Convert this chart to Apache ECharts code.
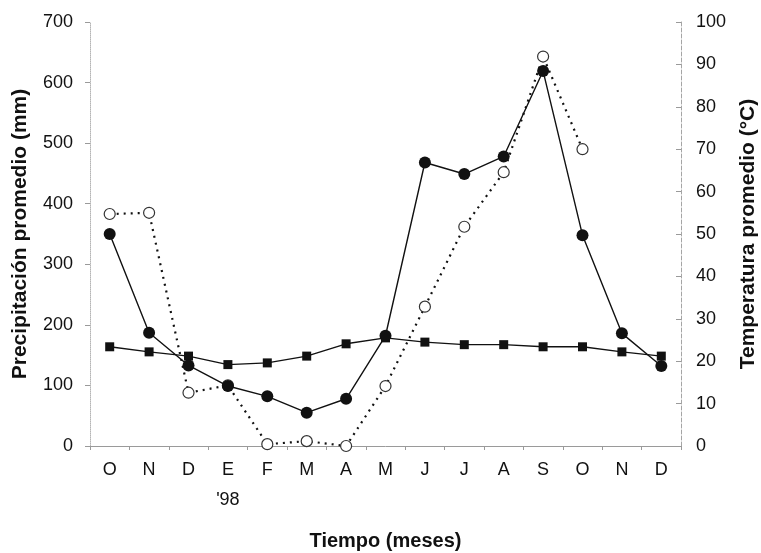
<!DOCTYPE html>
<html>
<head>
<meta charset="utf-8">
<script src="https://cdn.jsdelivr.net/npm/echarts@6/dist/echarts.min.js"></script>
<style>
  html, body { margin: 0; padding: 0; background: #fff; }
  #chart { width: 761px; height: 553px; }
</style>
</head>
<body>
<div id="chart"></div>
<script>
// Months from October 1997 to December 1998
const months = ['O', 'N', 'D', "E\n'98", 'F', 'M', 'A', 'M', 'J', 'J', 'A', 'S', 'O', 'N', 'D'];

// Precipitation, series 1 (mm) - filled circles, solid line
const precipA = [350, 187, 133, 99, 82, 55, 78, 182, 468, 449, 478, 619, 348, 186, 132];

// Precipitation, series 2 (mm) - open circles, dotted line
const precipB = [383, 385, 88, 100, 3, 8, 0, 99, 230, 362, 452, 643, 490, null, null];

// Mean temperature (°C) - filled squares
const temperature = [23.4, 22.2, 21.2, 19.2, 19.6, 21.2, 24.1, 25.5, 24.5, 23.9, 23.9, 23.4, 23.4, 22.2, 21.2];

const leftTicks = { min: 0, max: 700, interval: 100 };
const rightTicks = { min: 0, max: 100, interval: 10 };

const FONT = 'Liberation Sans, Arial, sans-serif';
const INK = '#111';
const AXIS_GREY = '#9a9a9a';

const chart = echarts.init(document.getElementById('chart'), null, { renderer: 'canvas' });

chart.setOption({
  animation: false,
  backgroundColor: '#fff',
  grid: {
    left: 90, right: 80, top: 22, bottom: 107,
    containLabel: false,
    outerBoundsMode: 'none'
  },
  xAxis: {
    type: 'category',
    data: months,
    boundaryGap: true,
    name: 'Tiempo (meses)',
    nameLocation: 'middle',
    nameGap: 85,
    nameTextStyle: { fontFamily: FONT, fontSize: 20, fontWeight: 'bold', color: INK },
    axisLine: { show: true, lineStyle: { color: AXIS_GREY, width: 1 } },
    axisTick: { show: true, length: 4, lineStyle: { color: AXIS_GREY } },
    axisLabel: {
      fontFamily: FONT, fontSize: 18, color: INK,
      margin: 9, lineHeight: 30, interval: 0
    },
    splitLine: { show: false }
  },
  yAxis: [
    {
      type: 'value',
      min: leftTicks.min, max: leftTicks.max, interval: leftTicks.interval,
      name: 'Precipitación promedio (mm)',
      nameLocation: 'middle',
      nameGap: 59,
      nameRotate: 90,
      nameTextStyle: { fontFamily: FONT, fontSize: 21, fontWeight: 'bold', color: INK },
      axisLine: { show: true, lineStyle: { color: '#b5b5b5', width: 1, type: 'dotted' } },
      axisTick: { show: true, length: 5, lineStyle: { color: AXIS_GREY } },
      axisLabel: { fontFamily: FONT, fontSize: 18, color: INK, margin: 17 },
      splitLine: { show: false }
    },
    {
      type: 'value',
      position: 'right',
      min: rightTicks.min, max: rightTicks.max, interval: rightTicks.interval,
      name: 'Temperatura promedio (°C)',
      nameLocation: 'middle',
      nameGap: 57,
      nameRotate: 90,
      nameTextStyle: { fontFamily: FONT, fontSize: 21, fontWeight: 'bold', color: INK },
      axisLine: { show: true, lineStyle: { color: '#a5a5a5', width: 1, type: 'dashed' } },
      axisTick: { show: true, length: 5, inside: true, lineStyle: { color: AXIS_GREY } },
      axisLabel: { fontFamily: FONT, fontSize: 18, color: INK, margin: 15 },
      splitLine: { show: false }
    }
  ],
  series: [
    {
      name: 'Precipitación 2',
      type: 'line',
      yAxisIndex: 0,
      data: precipB,
      connectNulls: false,
      symbol: 'circle',
      symbolSize: 11,
      itemStyle: { color: '#fff', borderColor: '#333', borderWidth: 1.2 },
      lineStyle: { color: INK, width: 2.2, type: [2, 5] },
      z: 2
    },
    {
      name: 'Temperatura',
      type: 'line',
      yAxisIndex: 1,
      data: temperature,
      symbol: 'rect',
      symbolSize: 9,
      itemStyle: { color: INK },
      lineStyle: { color: INK, width: 1.4 },
      z: 3
    },
    {
      name: 'Precipitación 1',
      type: 'line',
      yAxisIndex: 0,
      data: precipA,
      symbol: 'circle',
      symbolSize: 12,
      itemStyle: { color: INK },
      lineStyle: { color: INK, width: 1.4 },
      z: 4
    }
  ]
});
</script>
</body>
</html>
